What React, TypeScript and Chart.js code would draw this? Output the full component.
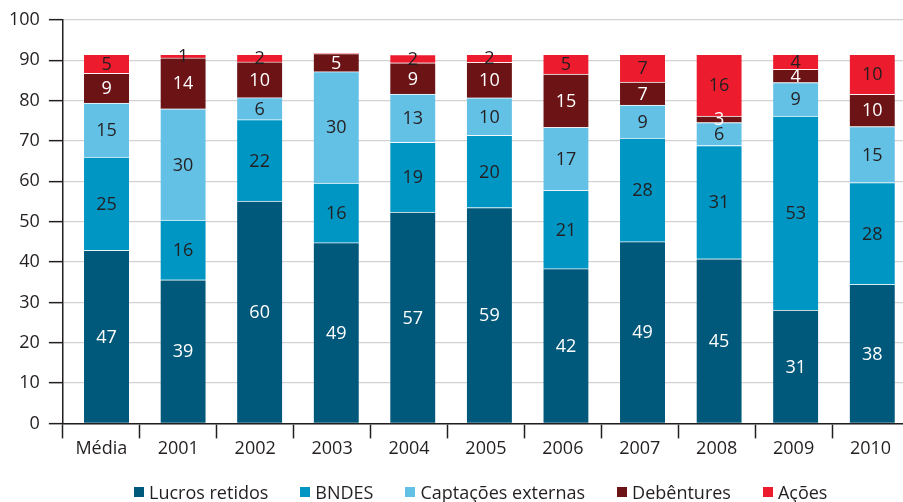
import React, { useEffect, useRef } from "react";
import { Chart, registerables } from "chart.js";

Chart.register(...registerables);

const categories = ["Média", "2001", "2002", "2003", "2004", "2005", "2006", "2007", "2008", "2009", "2010"];

// segment heights as drawn (axis units)
const lucros = [42.9, 35.6, 55.1, 44.8, 52.4, 53.5, 38.35, 45.05, 40.8, 28.1, 34.45];
const bndes = [23.1, 14.8, 20.2, 14.8, 17.3, 17.9, 19.4, 25.65, 28.1, 48.1, 25.25];
const captacoes = [13.4, 27.6, 5.45, 27.6, 11.95, 9.3, 15.65, 8.2, 5.7, 8.3, 13.9];
const debentures = [7.4, 12.6, 8.85, 4.5, 7.75, 8.8, 13.2, 5.7, 1.6, 3.3, 8.0];
const acoes = [4.7, 0.9, 1.9, 0, 2.0, 2.0, 4.9, 6.9, 15.3, 3.7, 9.9];

// printed percentages
const lucrosLbl = [47, 39, 60, 49, 57, 59, 42, 49, 45, 31, 38];
const bndesLbl = [25, 16, 22, 16, 19, 20, 21, 28, 31, 53, 28];
const captacoesLbl = [15, 30, 6, 30, 13, 10, 17, 9, 6, 9, 15];
const debenturesLbl = [9, 14, 10, 5, 9, 10, 15, 7, 3, 4, 10];
const acoesLbl = [5, 1, 2, null, 2, 2, 5, 7, 16, 4, 10];

const yTicks = [0, 10, 20, 30, 40, 50, 60, 70, 80, 90, 100];

const seriesNames = ["Lucros retidos", "BNDES", "Captações externas", "Debêntures", "Ações"];
const seriesColors = ["#00587a", "#0096c4", "#64c1e6", "#6b1315", "#ec1c2e"];
const labelColors = ["#ffffff", "#231f20", "#231f20", "#ffffff", "#231f20"];

const FONT = '"Open Sans", "Noto Sans", sans-serif';
const INK = "#231f20";
const FS = 18;

const segLabelPlugin = {
  id: "segLabels",
  afterDatasetsDraw(chart: any) {
    const ctx = chart.ctx;
    ctx.save();
    ctx.font = `${FS}px ${FONT}`;
    ctx.textAlign = "center";
    ctx.textBaseline = "middle";
    chart.data.datasets.forEach((ds: any, di: number) => {
      const meta = chart.getDatasetMeta(di);
      meta.data.forEach((el: any, i: number) => {
        const t = ds.segLabels[i];
        if (t === null || t === undefined) return;
        const p = el.getProps(["x", "y", "base"], true);
        ctx.fillStyle = ds.labelColor;
        ctx.fillText(String(t), p.x, (p.y + p.base) / 2 + 1);
      });
    });
    ctx.restore();
  },
};

export default function App() {
  const ref = useRef<HTMLCanvasElement | null>(null);

  useEffect(() => {
    if (!ref.current) return;
    const values = [lucros, bndes, captacoes, debentures, acoes];
    const lbls = [lucrosLbl, bndesLbl, captacoesLbl, debenturesLbl, acoesLbl];
    const chart = new Chart(ref.current, {
      type: "bar",
      data: {
        labels: categories,
        datasets: values.map((arr, k) => ({
          label: seriesNames[k],
          data: arr.map((v, i) => ({ x: i, y: v })),
          backgroundColor: seriesColors[k],
          borderColor: "rgba(255,255,255,0.55)",
          borderWidth: { top: 1, bottom: 0, left: 0, right: 0 },
          borderSkipped: false,
          barThickness: 45,
          xAxisID: "xb",
          yAxisID: "y",
          segLabels: lbls[k],
          labelColor: labelColors[k],
        })) as any,
      },
      options: {
        responsive: false,
        animation: false,
        layout: { padding: { top: 20, left: 0, right: 11, bottom: 42 } },
        plugins: {
          legend: { display: false },
          tooltip: { enabled: false },
        },
        scales: {
          x: {
            type: "category",
            position: "bottom",
            offset: true,
            grid: {
              display: true,
              offset: true,
              drawOnChartArea: false,
              drawTicks: true,
              tickLength: 15,
              tickColor: INK,
              tickWidth: 1.5,
            },
            border: { display: true, color: INK, width: 1.5 },
            ticks: { color: INK, font: { size: FS, family: FONT }, padding: 0, maxRotation: 0 },
          },
          xb: {
            type: "linear",
            position: "bottom",
            display: false,
            offset: false,
            stacked: true,
            min: -0.57,
            max: 10.48,
          },
          y: {
            type: "linear",
            stacked: true,
            min: 0,
            max: 100,
            afterBuildTicks: (scale: any) => {
              scale.ticks = yTicks.map((v) => ({ value: v }));
            },
            grid: {
              color: "#d2d2d2",
              lineWidth: 1.3,
              drawTicks: true,
              tickLength: 14,
              tickColor: INK,
              tickWidth: 1.5,
            },
            border: { display: true, color: INK, width: 1.5 },
            ticks: { color: INK, font: { size: FS, family: FONT }, padding: 9 },
          },
        } as any,
      },
      plugins: [segLabelPlugin],
    });
    return () => chart.destroy();
  }, []);

  return (
    <div
      style={{
        position: "fixed",
        left: 0,
        top: 0,
        width: 903,
        height: 502,
        overflow: "hidden",
        background: "#ffffff",
      }}
    >
      <canvas ref={ref} width={920} height={502} style={{ display: "block" }} />
      <div
        style={{
          position: "absolute",
          left: 134,
          top: 481,
          display: "flex",
          gap: 32,
          fontFamily: FONT,
          fontSize: FS,
          lineHeight: "22px",
          color: INK,
          whiteSpace: "nowrap",
        }}
      >
        {seriesNames.map((n, k) => (
          <div key={n} style={{ display: "flex", alignItems: "center" }}>
            <span
              style={{
                display: "inline-block",
                width: 10,
                height: 10,
                background: seriesColors[k],
                marginRight: 5,
              }}
            />
            <span>{n}</span>
          </div>
        ))}
      </div>
    </div>
  );
}
